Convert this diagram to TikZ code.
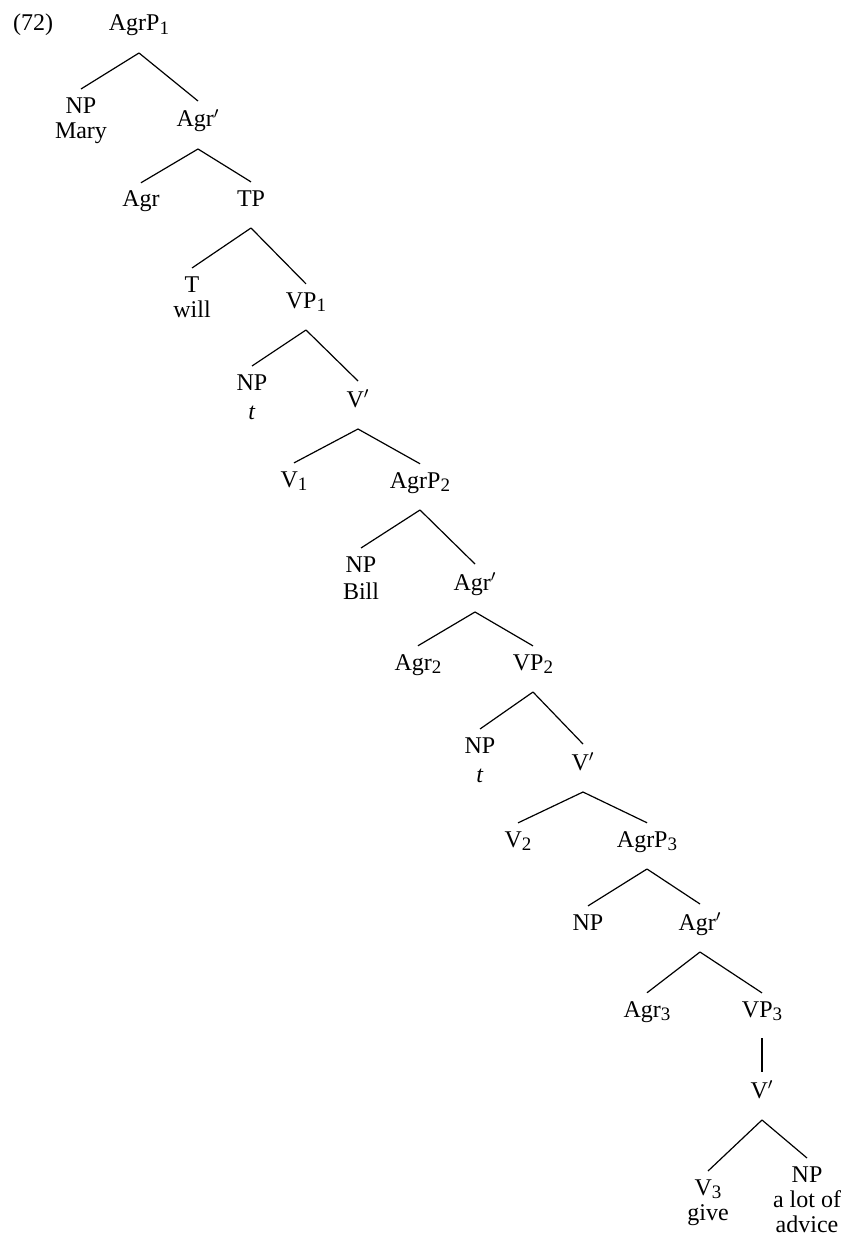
\documentclass[tikz,border=0pt]{standalone}
\usepackage{fontspec}
\setmainfont{Liberation Serif}
\newcommand{\lsub}[1]{\raisebox{-1.8pt}{\fontsize{9.5}{10}\selectfont #1}}
\begin{document}
\begin{tikzpicture}[
    x=0.5pt, y=-0.5pt,
    every node/.style={
        anchor=base,
        inner sep=0pt,
        align=center,
        font=\fontsize{12}{12.5}\selectfont
    },
    stack/.style={anchor=north},
    branch/.style={line width=0.6pt}
]
\useasboundingbox (0,0) rectangle (847,1241);

% Example number
\node (exno) at (33,31) {(72)};

% Upper part
\node (agrp1) at (139,31) {AgrP\lsub{1}};
\node[stack] (np_mary) at (81,97) {NP\\Mary};
\node (agrbar1) at (198,127) {Agr$'$};
\node (agr1) at (141,207) {Agr};
\node (tp) at (251,206) {TP};
\node[stack] (t_will) at (192,276) {T\\will};
\node (vp1) at (306,308) {VP\lsub{1}};
\node[stack] (np_t1) at (252,374) {NP\\[2pt]\textit{t}};
\node (vbar1) at (358,407) {V$'$};

% Middle part
\node (v1) at (294,487) {V\lsub{1}};
\node (agrp2) at (420,488) {AgrP\lsub{2}};
\node[stack] (np_bill) at (361,556) {NP\\[1pt]Bill};
\node (agrbar2) at (475,590) {Agr$'$};
\node (agr2) at (418,670) {Agr\lsub{2}};
\node (vp2) at (533,670) {VP\lsub{2}};
\node[stack] (np_t2) at (480,737) {NP\\[2pt]\textit{t}};
\node (vbar2) at (583,770) {V$'$};

% Lower part
\node (v2) at (518,847) {V\lsub{2}};
\node (agrp3) at (647,847) {AgrP\lsub{3}};
\node (np3) at (588,930) {NP};
\node (agrbar3) at (700,930) {Agr$'$};
\node (agr3) at (647,1017) {Agr\lsub{3}};
\node (vp3) at (762,1017) {VP\lsub{3}};
\node (vbar3) at (762,1098) {V$'$};
\node[stack] (v3) at (708,1179) {V\lsub{3}\\give};
\node[stack] (np_advice) at (807,1166) {NP\\a lot of\\advice};

% Branches
\draw[branch] ([yshift=-11pt]agrp1.base) -- ([yshift=4pt]np_mary.north);
\draw[branch] ([yshift=-11pt]agrp1.base) -- ([yshift=4pt]agrbar1.north);

\draw[branch] ([yshift=-11pt]agrbar1.base) -- ([yshift=4pt]agr1.north);
\draw[branch] ([yshift=-11pt]agrbar1.base) -- ([yshift=4pt]tp.north);

\draw[branch] ([yshift=-11pt]tp.base) -- ([yshift=4pt]t_will.north);
\draw[branch] ([yshift=-11pt]tp.base) -- ([yshift=4pt]vp1.north);

\draw[branch] ([yshift=-11pt]vp1.base) -- ([yshift=4pt]np_t1.north);
\draw[branch] ([yshift=-11pt]vp1.base) -- ([yshift=4pt]vbar1.north);

\draw[branch] ([yshift=-11pt]vbar1.base) -- ([yshift=4pt]v1.north);
\draw[branch] ([yshift=-11pt]vbar1.base) -- ([yshift=4pt]agrp2.north);

\draw[branch] ([yshift=-11pt]agrp2.base) -- ([yshift=4pt]np_bill.north);
\draw[branch] ([yshift=-11pt]agrp2.base) -- ([yshift=4pt]agrbar2.north);

\draw[branch] ([yshift=-11pt]agrbar2.base) -- ([yshift=4pt]agr2.north);
\draw[branch] ([yshift=-11pt]agrbar2.base) -- ([yshift=4pt]vp2.north);

\draw[branch] ([yshift=-11pt]vp2.base) -- ([yshift=4pt]np_t2.north);
\draw[branch] ([yshift=-11pt]vp2.base) -- ([yshift=4pt]vbar2.north);

\draw[branch] ([yshift=-11pt]vbar2.base) -- ([yshift=4pt]v2.north);
\draw[branch] ([yshift=-11pt]vbar2.base) -- ([yshift=4pt]agrp3.north);

\draw[branch] ([yshift=-11pt]agrp3.base) -- ([yshift=4pt]np3.north);
\draw[branch] ([yshift=-11pt]agrp3.base) -- ([yshift=4pt]agrbar3.north);

\draw[branch] ([yshift=-11pt]agrbar3.base) -- ([yshift=4pt]agr3.north);
\draw[branch] ([yshift=-11pt]agrbar3.base) -- ([yshift=4pt]vp3.north);

\draw[branch] ([yshift=-10.5pt]vp3.base) -- ([yshift=4pt]vbar3.north);

\draw[branch] ([yshift=-11pt]vbar3.base) -- ([yshift=4pt]v3.north);
\draw[branch] ([yshift=-11pt]vbar3.base) -- ([yshift=4pt]np_advice.north);

\end{tikzpicture}
\end{document}
